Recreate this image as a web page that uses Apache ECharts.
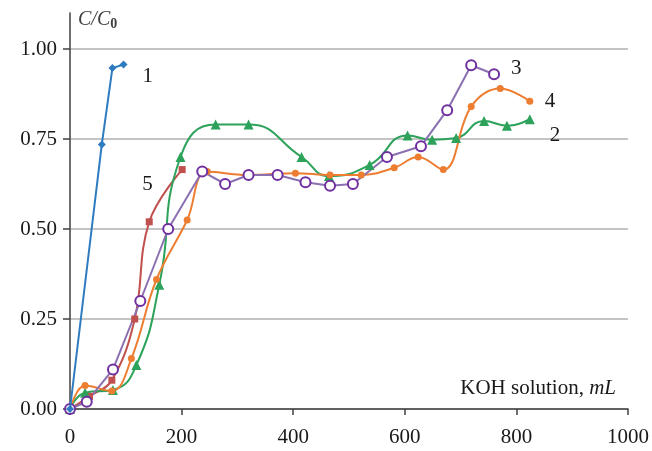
<!DOCTYPE html>
<html>
<head>
<meta charset="utf-8">
<script src="https://cdn.jsdelivr.net/npm/echarts@6/dist/echarts.min.js"></script>
<style>
  html, body { margin: 0; padding: 0; background: #fff; }
  #chart { width: 652px; height: 451px; }
</style>
</head>
<body>
<div id="chart"></div>
<script>
// KOH volume (mL) vs C/C0
const curve1 = [[0, 0], [57, 0.735], [76, 0.947], [96, 0.957]];
const curve2 = [[0, 0], [27, 0.045], [77, 0.053], [119, 0.122], [160, 0.345], [198, 0.70],
  [261, 0.79], [320, 0.79], [415, 0.70], [464, 0.647], [537, 0.678], [605, 0.76],
  [649, 0.748], [692, 0.753], [742, 0.80], [783, 0.787], [824, 0.805]];
const curve3 = [[0, 0], [30, 0.02], [77, 0.11], [126, 0.30], [176, 0.50], [237, 0.66],
  [278, 0.625], [320, 0.65], [372, 0.65], [422, 0.63], [466, 0.62], [507, 0.625],
  [568, 0.70], [629, 0.73], [676, 0.83], [719, 0.955], [760, 0.93]];
const curve4 = [[0, 0], [27, 0.065], [75, 0.05], [110, 0.14], [155, 0.36], [210, 0.525],
  [246, 0.66], [319, 0.65], [404, 0.655], [466, 0.65], [522, 0.65], [581, 0.67],
  [624, 0.70], [669, 0.665], [719, 0.84], [771, 0.89], [824, 0.855]];
const curve5 = [[0, 0], [35, 0.035], [75, 0.08], [116, 0.25], [142, 0.52], [201, 0.665]];

const yTicks = [0, 0.25, 0.5, 0.75, 1];

const serif = 'Liberation Serif';
const gridColor = '#c4c4c4';

const chart = echarts.init(document.getElementById('chart'));

const numLabel = (txt, offset) => ({
  show: true,
  formatter: txt,
  offset: offset,
  fontFamily: serif,
  fontSize: 21,
  color: '#1a1a1a'
});

const option = {
  backgroundColor: '#fff',
  animation: false,
  grid: { left: 70, right: 20, top: 13, bottom: 42 },
  xAxis: {
    type: 'value',
    min: 0,
    max: 1000,
    interval: 200,
    name: '{n|KOH solution, }{i|mL}',
    nameLocation: 'end',
    nameGap: -12,
    nameTextStyle: {
      align: 'right',
      verticalAlign: 'bottom',
      padding: [0, 0, 10, 0],
      rich: {
        n: { fontFamily: serif, fontSize: 21, color: '#1a1a1a' },
        i: { fontFamily: serif, fontSize: 21, fontStyle: 'italic', color: '#1a1a1a' }
      }
    },
    axisLine: { show: true, lineStyle: { color: '#404040', width: 1.5 } },
    axisTick: { show: true, inside: false, length: 6, lineStyle: { color: '#404040', width: 1.5 } },
    axisLabel: {
      margin: 18,
      fontFamily: serif,
      fontSize: 21,
      color: '#1a1a1a',
      formatter: v => String(v)
    },
    splitLine: { show: false }
  },
  yAxis: {
    type: 'value',
    min: 0,
    max: 1.1,
    interval: 0.25,
    name: '{c|C/C}{s|0}',
    nameLocation: 'end',
    nameGap: 8,
    nameTextStyle: {
      align: 'left',
      padding: [0, 0, -26, 8],
      rich: {
        c: { fontFamily: serif, fontSize: 20, fontStyle: 'italic', color: '#404040' },
        s: { fontFamily: serif, fontSize: 14, fontWeight: 'bold', color: '#404040', verticalAlign: 'bottom', padding: [8, 0, 0, 0] }
      }
    },
    axisLine: { show: true, lineStyle: { color: '#404040', width: 1.5 } },
    axisTick: { show: true, length: 7, customValues: yTicks, lineStyle: { color: '#404040', width: 1.5 } },
    axisLabel: {
      margin: 13,
      customValues: yTicks,
      fontFamily: serif,
      fontSize: 21,
      color: '#1a1a1a',
      formatter: v => v.toFixed(2)
    },
    splitLine: {
      show: true,
      lineStyle: { color: [gridColor, gridColor, gridColor, gridColor, gridColor, 'rgba(0,0,0,0)'], width: 2 }
    }
  },
  series: [
    {
      name: '1',
      type: 'line',
      data: curve1,
      symbol: 'diamond',
      symbolSize: 8,
      lineStyle: { color: '#2e7bc0', width: 2 },
      itemStyle: { color: '#2e7bc0' },
      endLabel: numLabel('1', [11, 12]),
      z: 5
    },
    {
      name: '5',
      type: 'line',
      data: curve5,
      smooth: 0.4,
      symbol: 'rect',
      symbolSize: 7,
      lineStyle: { color: '#c0504d', width: 2 },
      itemStyle: { color: '#c0504d' },
      endLabel: numLabel('5', [-48, 15])
    },
    {
      name: '2',
      type: 'line',
      data: curve2,
      smooth: 0.5,
      symbol: 'triangle',
      symbolSize: 10,
      lineStyle: { color: '#2ca25a', width: 2 },
      itemStyle: { color: '#2ca25a' },
      endLabel: numLabel('2', [12, 16])
    },
    {
      name: '4',
      type: 'line',
      data: curve4,
      smooth: 0.4,
      symbol: 'circle',
      symbolSize: 7,
      lineStyle: { color: '#ed7d31', width: 2 },
      itemStyle: { color: '#ed7d31' },
      endLabel: numLabel('4', [7, 0])
    },
    {
      name: '3',
      type: 'line',
      data: curve3,
      symbol: 'circle',
      symbolSize: 10,
      showAllSymbol: true,
      lineStyle: { color: '#8a70b0', width: 2 },
      itemStyle: { color: '#fff', borderColor: '#7030a0', borderWidth: 2 },
      endLabel: numLabel('3', [9, -6])
    }
  ]
};

chart.setOption(option);
</script>
</body>
</html>
